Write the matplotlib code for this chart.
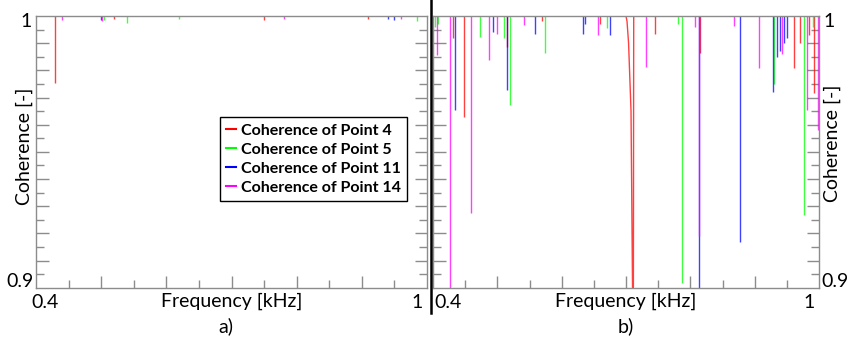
import matplotlib
matplotlib.use('Agg')
import matplotlib.pyplot as plt
from matplotlib.lines import Line2D
import numpy as np

plt.rcParams['font.family'] = ['Lato', 'DejaVu Sans']

# colours of the four measuring points
names = ['Coherence of Point 4', 'Coherence of Point 5',
         'Coherence of Point 11', 'Coherence of Point 14']
colors = ['#ff0000', '#00ff00', '#0000ff', '#ff00ff']

# panel a) : dips (frequency kHz, coherence minimum)
red_a_f = [0.4292, 0.520, 0.750, 0.910]
red_a_c = [0.9753, 0.999, 0.9985, 0.999]
green_a_f = [0.505, 0.540, 0.620, 0.985]
green_a_c = [0.9985, 0.9975, 0.999, 0.998]
blue_a_f = [0.500, 0.940, 0.950]
blue_a_c = [0.9985, 0.999, 0.9985]
mag_a_f = [0.440, 0.502, 0.780, 0.960]
mag_a_c = [0.9985, 0.998, 0.999, 0.999]

# panel b) : dips
red_b_f = [0.431, 0.4477, 0.515, 0.5694, 0.660, 0.7456, 0.8155, 0.9607, 0.970, 0.985, 0.9927]
red_b_c = [0.992, 0.963, 0.9887, 0.998, 0.997, 0.9935, 0.9865, 0.9807, 0.990, 0.993, 0.9715]
# the wide red dip near 0.71 kHz
red_v_f = [0.700, 0.7016, 0.704, 0.7078, 0.7105, 0.7112, 0.712]
red_v_c = [1.0, 0.998, 0.990, 0.965, 0.890, 0.850, 1.0]
green_b_f = [0.4035, 0.408, 0.4726, 0.510, 0.520, 0.5746, 0.670, 0.781, 0.787, 0.930, 0.976, 0.990]
green_b_c = [0.996, 0.997, 0.9924, 0.992, 0.9672, 0.9863, 0.9955, 0.997, 0.9017, 0.975, 0.9268, 0.996]
blue_b_f = [0.4347, 0.4928, 0.515, 0.559, 0.6327, 0.6365, 0.6756, 0.8135, 0.8767, 0.9285,
            0.935, 0.940, 0.945, 0.950]
blue_b_c = [0.9654, 0.9942, 0.9728, 0.9935, 0.9935, 0.997, 0.993, 0.850, 0.917, 0.9721,
            0.985, 0.987, 0.990, 0.992]
mag_b_f = [0.406, 0.426, 0.4596, 0.4866, 0.4995, 0.542, 0.6565, 0.7311, 0.807, 0.8135,
           0.8675, 0.9063, 0.943, 0.9813, 0.998]
mag_b_c = [0.9857, 0.850, 0.9276, 0.9838, 0.9935, 0.9966, 0.993, 0.9811, 0.996, 0.919,
           0.9965, 0.981, 0.986, 0.9654, 0.958]

panel_a = [(red_a_f, red_a_c), (green_a_f, green_a_c), (blue_a_f, blue_a_c), (mag_a_f, mag_a_c)]
panel_b = [(red_b_f, red_b_c), (green_b_f, green_b_c), (blue_b_f, blue_b_c), (mag_b_f, mag_b_c)]

fig = plt.figure(figsize=(8.57, 3.40), dpi=100)
axa = fig.add_axes([36/857, 52.3/340, 391/857, 271.7/340])
axb = fig.add_axes([433/857, 52.3/340, 386/857, 271.7/340])

gray = '#8c8c8c'
for ax, dips in [(axa, panel_a), (axb, panel_b)]:
    for (f, c), col in zip(dips, colors):
        ax.plot([0.4, 1.0], [1.0, 1.0], color=col, lw=1.2, alpha=0.8)
        ax.vlines(f, c, 1.0, color=col, lw=1.0, alpha=0.75)
    ax.set_xlim(0.4, 1.0)
    ax.set_ylim(0.9, 1.0)
    ax.set_xticks(np.arange(0.5, 0.95, 0.1))
    ax.set_xticks(np.arange(0.45, 1.0, 0.1), minor=True)
    ax.set_yticks(np.arange(0.91, 0.995, 0.01))
    ax.set_yticks(np.arange(0.905, 1.0, 0.01), minor=True)
    ax.tick_params(which='both', direction='in', left=True, right=True, top=False,
                   labelleft=False, labelbottom=False, color=gray, width=1)
    ax.tick_params(which='major', length=9)
    ax.tick_params(which='minor', length=5.5)
    for s in ax.spines.values():
        s.set_color(gray)
        s.set_linewidth(1)

axb.plot(red_v_f, red_v_c, color=colors[0], lw=1.0, alpha=0.75)

fs = 14
# panel a) texts
axa.text(-0.012, 1.012, '1', transform=axa.transAxes, ha='right', va='top', fontsize=fs)
axa.text(-0.006, 0.004, '0.9', transform=axa.transAxes, ha='right', va='baseline', fontsize=fs)
axa.text(-0.012, -0.075, '0.4', transform=axa.transAxes, ha='left', va='baseline', fontsize=fs)
axa.text(0.99, -0.075, '1', transform=axa.transAxes, ha='right', va='baseline', fontsize=fs)
axa.text(0.5, -0.07, 'Frequency [kHz]', transform=axa.transAxes, ha='center', va='baseline', fontsize=fs)
axa.text(0.485, -0.14, 'a)', transform=axa.transAxes, ha='center', va='center', fontsize=fs)
fig.text(24/857, 1 - 146/340, 'Coherence [-]', rotation=90, ha='center', va='center', fontsize=fs)

# panel b) texts
axb.text(1.012, 1.012, '1', transform=axb.transAxes, ha='left', va='top', fontsize=fs)
axb.text(1.006, 0.004, '0.9', transform=axb.transAxes, ha='left', va='baseline', fontsize=fs)
axb.text(0.003, -0.075, '0.4', transform=axb.transAxes, ha='left', va='baseline', fontsize=fs)
axb.text(0.99, -0.075, '1', transform=axb.transAxes, ha='right', va='baseline', fontsize=fs)
axb.text(0.5, -0.07, 'Frequency [kHz]', transform=axb.transAxes, ha='center', va='baseline', fontsize=fs)
axb.text(0.5, -0.14, 'b)', transform=axb.transAxes, ha='center', va='center', fontsize=fs)
fig.text(832/857, 1 - 143/340, 'Coherence [-]', rotation=90, ha='center', va='center', fontsize=fs)

# legend
handles = [Line2D([], [], color=c, lw=1.5) for c in colors]
leg = axa.legend(handles, names, loc='center', bbox_to_anchor=(0.71, 0.473),
                 prop={'weight': 'bold', 'size': 11.5}, handlelength=0.6, handletextpad=0.3,
                 labelspacing=0.3, fancybox=False, edgecolor='black', framealpha=1,
                 borderpad=0.4, borderaxespad=0)
leg.get_frame().set_linewidth(1)

# separator between the panels
fig.add_artist(Line2D([430.5/857, 430.5/857], [1.0, 1 - 313/340], color='black', lw=1.8))

fig.savefig('out.png', dpi=100)
